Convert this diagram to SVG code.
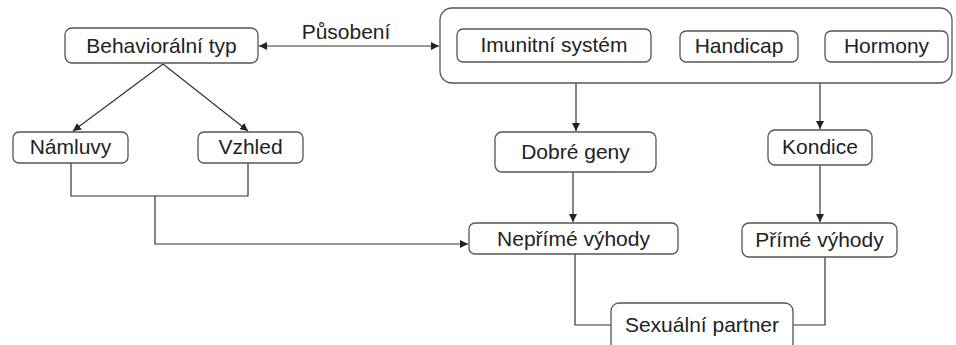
<svg xmlns="http://www.w3.org/2000/svg" width="956" height="345" viewBox="0 0 956 345">
<style>
.box{fill:#fff;stroke:#555;stroke-width:1.3}
.t{font-family:"Liberation Sans",Arial,sans-serif;font-size:21px;fill:#222;text-anchor:middle}
.c{fill:none;stroke:#333;stroke-width:1.2}
</style>
<defs>
<marker id="ah" viewBox="0 0 10 10" refX="10" refY="5" markerWidth="8" markerHeight="8" markerUnits="userSpaceOnUse" orient="auto-start-reverse">
<path d="M0,0 L10,5 L0,10 z" fill="#222"/>
</marker>
</defs>
<rect width="956" height="345" fill="#fff"/>
<g id="connectors">
<line class="c" x1="259" y1="46" x2="439" y2="46" marker-start="url(#ah)" marker-end="url(#ah)"/>
<line class="c" x1="163" y1="64" x2="73" y2="131" marker-end="url(#ah)"/>
<line class="c" x1="163" y1="64" x2="248" y2="131" marker-end="url(#ah)"/>
<polyline class="c" points="71,163 71,196 248,196 248,163"/>
<polyline class="c" points="155,196 155,244 468,244" marker-end="url(#ah)"/>
<line class="c" x1="576" y1="83" x2="576" y2="131" marker-end="url(#ah)"/>
<line class="c" x1="820" y1="83" x2="820" y2="129" marker-end="url(#ah)"/>
<line class="c" x1="573" y1="172" x2="573" y2="222" marker-end="url(#ah)"/>
<line class="c" x1="820" y1="165" x2="820" y2="222" marker-end="url(#ah)"/>
<polyline class="c" points="575,254 575,325 611,325"/>
<polyline class="c" points="825,257 825,325 793,325"/>
</g>
<text class="t" x="346" y="39">Působení</text>
<g id="behavioralni">
<rect class="box" x="65" y="28" width="193" height="35" rx="7"/>
<text class="t" x="161.5" y="53">Behaviorální typ</text>
</g>
<g id="container">
<rect class="box" x="440" y="8" width="512" height="75" rx="12"/>
</g>
<g id="imunitni">
<rect class="box" x="457" y="29" width="194" height="33" rx="6"/>
<text class="t" x="554" y="52">Imunitní systém</text>
</g>
<g id="handicap">
<rect class="box" x="680" y="31" width="118" height="31" rx="6"/>
<text class="t" x="739" y="53">Handicap</text>
</g>
<g id="hormony">
<rect class="box" x="825" y="31" width="123" height="31" rx="6"/>
<text class="t" x="886.5" y="53">Hormony</text>
</g>
<g id="namluvy">
<rect class="box" x="13" y="132" width="115" height="31" rx="6"/>
<text class="t" x="70.5" y="154">Námluvy</text>
</g>
<g id="vzhled">
<rect class="box" x="198" y="132" width="105" height="31" rx="6"/>
<text class="t" x="250.5" y="154">Vzhled</text>
</g>
<g id="dobre-geny">
<rect class="box" x="495" y="132" width="161" height="40" rx="7"/>
<text class="t" x="575.5" y="159">Dobré geny</text>
</g>
<g id="kondice">
<rect class="box" x="768" y="130" width="104" height="35" rx="7"/>
<text class="t" x="820" y="154">Kondice</text>
</g>
<g id="neprime">
<rect class="box" x="469" y="223" width="209" height="31" rx="6"/>
<text class="t" x="573.5" y="246">Nepřímé výhody</text>
</g>
<g id="prime">
<rect class="box" x="742" y="223" width="155" height="34" rx="7"/>
<text class="t" x="819.5" y="247">Přímé výhody</text>
</g>
<g id="sexualni">
<rect class="box" x="611" y="303" width="182" height="48" rx="8"/>
<text class="t" x="702" y="332">Sexuální partner</text>
</g>
</svg>
